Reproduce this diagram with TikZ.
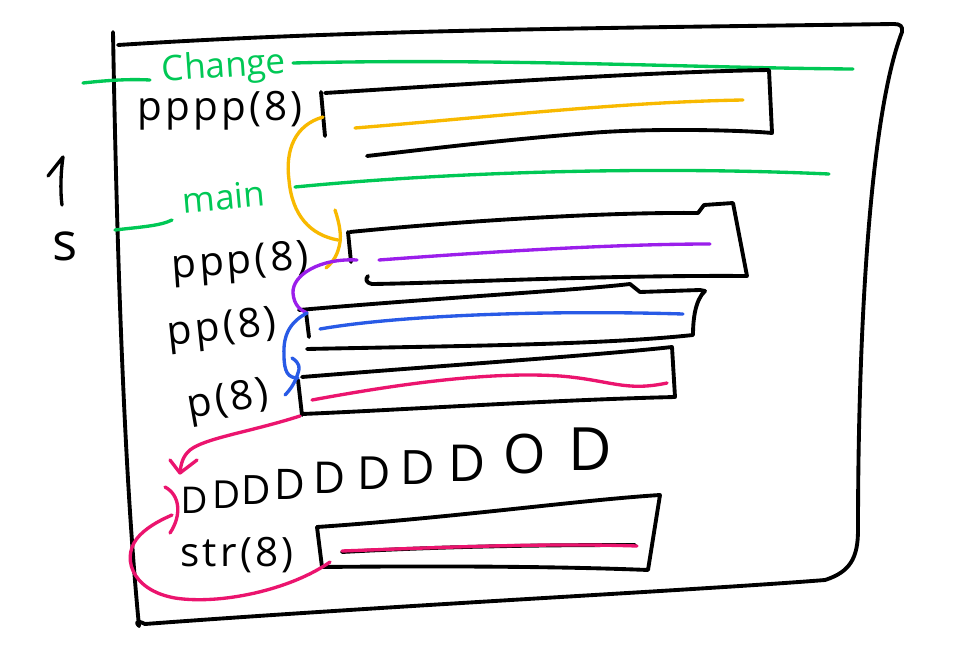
\documentclass[tikz,border=0pt]{standalone}
\usepackage{fontspec}
\setmainfont{Open Sans}
\definecolor{hgreen}{RGB}{0,200,85}
\definecolor{hyellow}{RGB}{248,185,0}
\definecolor{hpurple}{RGB}{155,30,235}
\definecolor{hblue}{RGB}{40,90,230}
\definecolor{hpink}{RGB}{235,20,110}
\begin{document}
\begin{tikzpicture}[x=0.02cm,y=-0.02cm,line cap=round,line join=round,
  ink/.style={line width=2.2pt,black},
  gline/.style={line width=1.9pt,hgreen},
  cline/.style={line width=1.9pt,#1},
  lbl/.style={inner sep=0pt,font=\fontsize{23}{27}\selectfont\addfontfeature{LetterSpace=8}},
  glbl/.style={inner sep=0pt,text=hgreen,font=\fontsize{20}{24}\selectfont},
  dch/.style={inner sep=0pt,font=\fontsize{#1}{#1}\selectfont}]
\useasboundingbox (0,0) rectangle (960,669);
\fill[white] (0,0) rectangle (960,669);
% outer frame
\draw[ink] (113,32) .. controls (116,200) and (122,450) .. (139,626);
\draw[ink] (139,626) .. controls (135,622) and (137,620) .. (145,624) .. controls (400,605) and (700,590) .. (825,580) .. controls (850,572) and (858,558) .. (858,530) .. controls (858,350) and (868,120) .. (902,32) .. controls (903,26) and (900,24) .. (894,24) .. controls (600,28) and (350,30) .. (118,45);
% s arrow
\draw[ink,line width=1.9pt] (48,176) -- (63,157) .. controls (61,170) and (60,190) .. (62,205);
\node[inner sep=0pt,font=\fontsize{30}{30}\selectfont] (s) at (65,246) {s};
% green section lines
\node[glbl,rotate=4] (chg) at (224,68) {Change};
\coordinate (c1a) at (83,83);
\coordinate (c1b) at (150,80);
\coordinate (c1c) at (293,63);
\coordinate (c1d) at (853,69);
\draw[gline] (c1a) .. controls (110,80) and (130,79) .. (c1b);
\draw[gline] (c1c) .. controls (500,58) and (700,68) .. (c1d);
\node[glbl,rotate=5] (mn) at (224,197) {main};
\coordinate (c2a) at (115,230);
\coordinate (c2b) at (172,220);
\coordinate (c2c) at (295,187);
\coordinate (c2d) at (829,174);
\draw[gline] (c2a) .. controls (140,227) and (160,226) .. (c2b);
\draw[gline] (c2c) .. controls (450,172) and (650,166) .. (c2d);
% labels
\node[lbl] (l4) at (220,111) {pppp(8)};
\node[lbl,rotate=4] (l3) at (240,264) {ppp(8)};
\node[lbl,rotate=6] (l2) at (222,330) {pp(8)};
\node[lbl,rotate=10] (l1) at (228,402) {p(8)};
\node[lbl] (ls) at (237,555) {str(8)};
% box pppp
\coordinate (b4) at (323,117);
\draw[ink] (321,92) -- (325,136);
\draw[ink] (325,93) .. controls (500,82) and (650,72) .. (769,70) -- (772,133) .. controls (740,130) and (650,128) .. (590,133) .. controls (500,140) and (420,150) .. (367,156);
\draw[cline=hyellow] (355,128) .. controls (480,118) and (620,102) .. (743,100);
% box ppp
\coordinate (b3) at (357,260);
\coordinate (b3in) at (338,240);
\draw[ink] (348,232) -- (351,262);
\draw[ink] (350,232) .. controls (450,222) and (600,212) .. (698,213) -- (704,205) -- (733,203) -- (747,276) .. controls (600,275) and (450,283) .. (372,284) .. controls (366,283) and (365,279) .. (368,276);
\draw[cline=hpurple] (379,260) .. controls (500,251) and (620,244) .. (710,244);
% box pp
\coordinate (b2) at (307,313);
\draw[ink] (306,312) -- (309,337);
\draw[ink] (299,310) .. controls (450,297) and (580,290) .. (630,284) -- (640,292) -- (700,290) -- (705,291) .. controls (695,300) and (693,320) .. (693,335) .. controls (600,345) and (450,346) .. (307,349);
\draw[cline=hblue] (320,329) .. controls (400,315) and (550,310) .. (683,314);
% box p
\coordinate (b1) at (300,416);
\coordinate (b1in) at (298,378);
\draw[ink] (298,380) -- (302,415);
\draw[ink] (302,377) .. controls (450,365) and (600,355) .. (672,347) -- (675,397) .. controls (550,400) and (400,410) .. (302,414);
\draw[cline=hpink] (312,400) .. controls (420,380) and (500,372) .. (560,376) .. controls (610,380) and (625,392) .. (667,383);
% characters
\node[dch=21] (d1) at (194,500) {D};
\node[dch=22] (d2) at (227,495) {D};
\node[dch=23] (d3) at (256,490) {D};
\node[dch=24] (d4) at (290,484) {D};
\node[dch=25] (d5) at (330,478) {D};
\node[dch=26] (d6) at (374,473) {D};
\node[dch=27] (d7) at (418,468) {D};
\node[dch=29] (d8) at (467,463) {D};
\node[dch=31] (d9) at (525,454) {O};
\node[dch=34] (d10) at (590,449) {D};
% box str
\coordinate (bs) at (330,562);
\draw[ink] (317,527) -- (322,567);
\draw[ink] (317,527) .. controls (450,518) and (580,500) .. (660,495) -- (648,570) .. controls (550,566) and (420,566) .. (322,567);
\draw[ink] (342,552) .. controls (450,546) and (550,545) .. (635,545);
\draw[cline=hpink] (342,551) .. controls (450,547) and (550,543) .. (637,546);
% connectors
\draw[cline=hyellow] (b4) .. controls (295,125) and (285,150) .. (289,180) .. controls (292,215) and (310,235) .. (b3in);
\draw[cline=hyellow] (335,210) .. controls (340,225) and (341,235) .. (340,242) .. controls (338,255) and (333,262) .. (326,268);
\draw[cline=hpurple] (b3) .. controls (320,258) and (292,275) .. (293,293) .. controls (294,305) and (300,310) .. (b2);
\draw[cline=hblue] (b2) .. controls (290,322) and (283,335) .. (284,355) .. controls (284,372) and (288,378) .. (b1in);
\draw[cline=hblue] (292,358) .. controls (300,363) and (300,368) .. (298,373) .. controls (295,383) and (290,390) .. (285,395);
\coordinate (atip) at (180,473);
\draw[cline=hpink] (b1) .. controls (250,432) and (205,438) .. (190,450) .. controls (183,456) and (181,463) .. (atip);
\draw[cline=hpink] (170,460) -- (atip) -- (197,460);
\draw[cline=hpink] (165,487) .. controls (180,495) and (182,515) .. (170,533);
\draw[cline=hpink] (bs) .. controls (290,590) and (220,605) .. (175,598) .. controls (130,590) and (120,555) .. (140,535) .. controls (150,525) and (163,519) .. (172,515);
\end{tikzpicture}
\end{document}
